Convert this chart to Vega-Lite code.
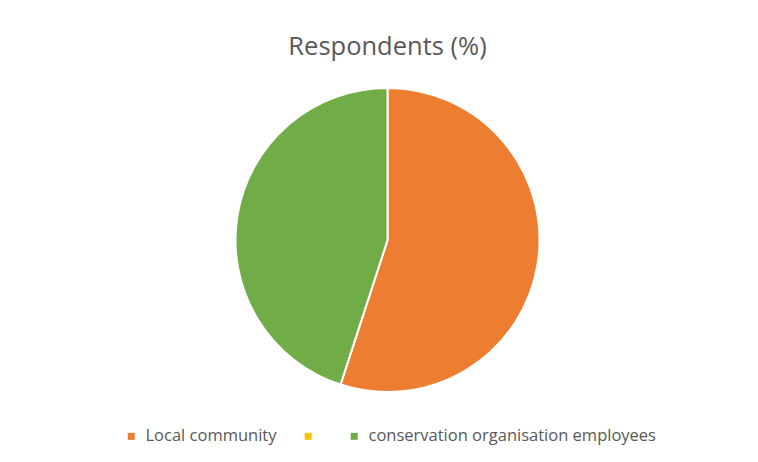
{
  "$schema": "https://vega.github.io/schema/vega-lite/v6.json",
  "width": 758,
  "height": 462,
  "autosize": {"type": "fit", "contains": "padding"},
  "padding": {"left": 5, "top": 7, "right": 0, "bottom": 0},
  "background": "white",
  "config": {
    "view": {"stroke": "#D9D9D9", "strokeWidth": 1},
    "font": "Open Sans"
  },
  "title": {
    "text": "Respondents (%)",
    "fontSize": 25.5,
    "fontWeight": "normal",
    "color": "#595959",
    "font": "Open Sans",
    "anchor": "middle",
    "offset": -53,
    "dx": 6
  },
  "data": {
    "values": [
      {"group": "Local community", "value": 55, "order": 1},
      {"group": "", "value": 0, "order": 2},
      {"group": "conservation organisation employees", "value": 45, "order": 3}
    ]
  },
  "mark": {"type": "arc", "outerRadius": 152, "stroke": "white", "strokeWidth": 2, "xOffset": 6, "yOffset": 5.5},
  "encoding": {
    "theta": {"field": "value", "type": "quantitative", "stack": true},
    "order": {"field": "order", "type": "quantitative"},
    "color": {
      "field": "group",
      "type": "nominal",
      "scale": {
        "domain": ["Local community", "", "conservation organisation employees"],
        "range": ["#ED7D31", "#FFC000", "#70AD47"]
      },
      "legend": {
        "title": null,
        "orient": "none",
        "direction": "horizontal",
        "legendX": 118,
        "legendY": 421,
        "symbolType": "square",
        "symbolSize": 49,
        "symbolStrokeWidth": 0,
        "labelFontSize": 16.5,
        "labelColor": "#595959",
        "labelFont": "Open Sans",
        "labelOffset": 6,
        "columnPadding": 23,
        "labelLimit": 400
      }
    }
  }
}
